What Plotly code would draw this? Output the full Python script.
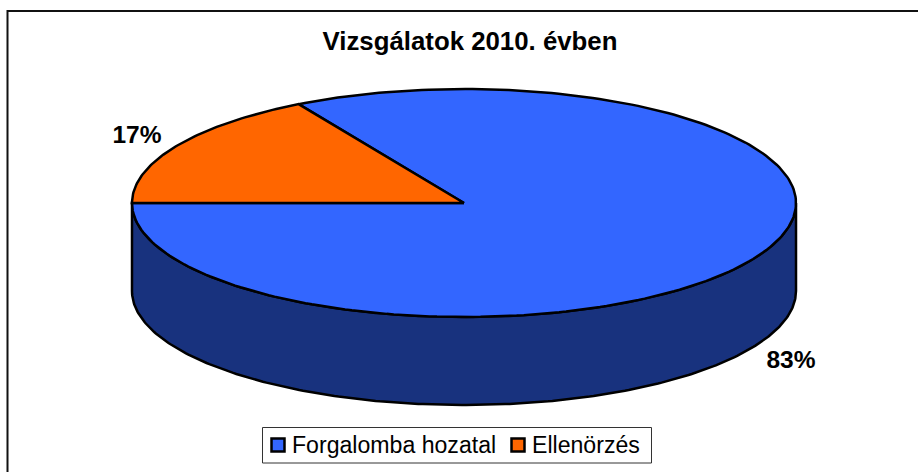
import numpy as np
import plotly.graph_objects as go

# Data
categories = ["Forgalomba hozatal", "Ellenörzés"]
shares = [83.3, 16.7]
slice_colors = ["#3366FF", "#FF6600"]
side_color = "#18327E"
title_text = "Vizsgálatok 2010. évben"

# Pie geometry in page pixels
W, H = 918, 472
CX, CY, RX, RY, DEPTH = 464, 203, 332, 114, 88
START_DEG = 180  # the slices go clockwise from the left edge; Ellenörzés comes first
LEGEND_X = [278, 518]
LEGEND_Y = 445


def arc(a0, a1, dy=0, n=240):
    t = np.radians(np.linspace(a0, a1, n))
    return CX + RX * np.cos(t), CY + dy - RY * np.sin(t)


orange_sweep = 360 * shares[1] / sum(shares)
boundary = START_DEG - orange_sweep

fig = go.Figure()
OUT = dict(color="black", width=2.5)

# front wall of the pie
x_top, y_top = arc(180, 360)
x_bot, y_bot = arc(360, 180, DEPTH)
fig.add_trace(go.Scatter(
    x=np.r_[x_top, x_bot, x_top[0]], y=np.r_[y_top, y_bot, y_top[0]],
    mode="lines", fill="toself", fillcolor=side_color, line=OUT,
    hoverinfo="skip", showlegend=False))

# top faces
x, y = arc(boundary, START_DEG - 360)
fig.add_trace(go.Scatter(
    x=np.r_[CX, x, CX], y=np.r_[CY, y, CY], mode="lines", fill="toself",
    fillcolor=slice_colors[0], line=OUT, name=categories[0], showlegend=False))
x, y = arc(START_DEG, boundary, n=80)
fig.add_trace(go.Scatter(
    x=np.r_[CX, x, CX], y=np.r_[CY, y, CY], mode="lines", fill="toself",
    fillcolor=slice_colors[1], line=OUT, name=categories[1], showlegend=False))

# percentage labels
fig.add_trace(go.Scatter(
    x=[791, 137], y=[362, 137], mode="text",
    text=[f"{round(s)}%" for s in shares],
    textfont=dict(family="Liberation Sans", size=24.5, color="black", weight="bold"),
    hoverinfo="skip", showlegend=False))

# legend entries, sitting in the framed box below
for name, color, lx in zip(categories, slice_colors, LEGEND_X):
    fig.add_trace(go.Scatter(
        x=[lx], y=[LEGEND_Y], mode="markers", name=name,
        marker=dict(symbol="square", size=13, color=color,
                    line=dict(color="black", width=2.5)),
        showlegend=False))
    fig.add_trace(go.Scatter(
        x=[lx + 14], y=[LEGEND_Y + 2], mode="text", text=[name],
        textposition="middle right",
        textfont=dict(family="Liberation Sans", size=23.1, color="black"),
        hoverinfo="skip", showlegend=False))

fig.update_layout(
    width=W, height=H, autosize=False,
    margin=dict(l=0, r=0, t=0, b=0),
    paper_bgcolor="white", plot_bgcolor="white",
    font=dict(family="Liberation Sans", color="black"),
    title=dict(text=f"<b>{title_text}</b>", x=470 / W, xanchor="center",
               y=1 - 41 / H, yanchor="middle",
               font=dict(family="Liberation Sans", size=25.8, color="black")),
    xaxis=dict(range=[0, W], visible=False, fixedrange=True),
    yaxis=dict(range=[H, 0], visible=False, fixedrange=True),
    shapes=[
        dict(type="rect", xref="x", yref="y", x0=7.5, y0=11, x1=930, y1=490,
             line=dict(color="#111111", width=2), layer="below"),
        dict(type="rect", xref="x", yref="y", x0=262.5, y0=427.5, x1=651.5, y1=463,
             line=dict(color="#333333", width=1), fillcolor="white", layer="below"),
    ],
)
fig.write_html("out.html", config={"displayModeBar": False},
               post_script="document.body.style.margin='0';document.body.style.overflow='hidden';")
